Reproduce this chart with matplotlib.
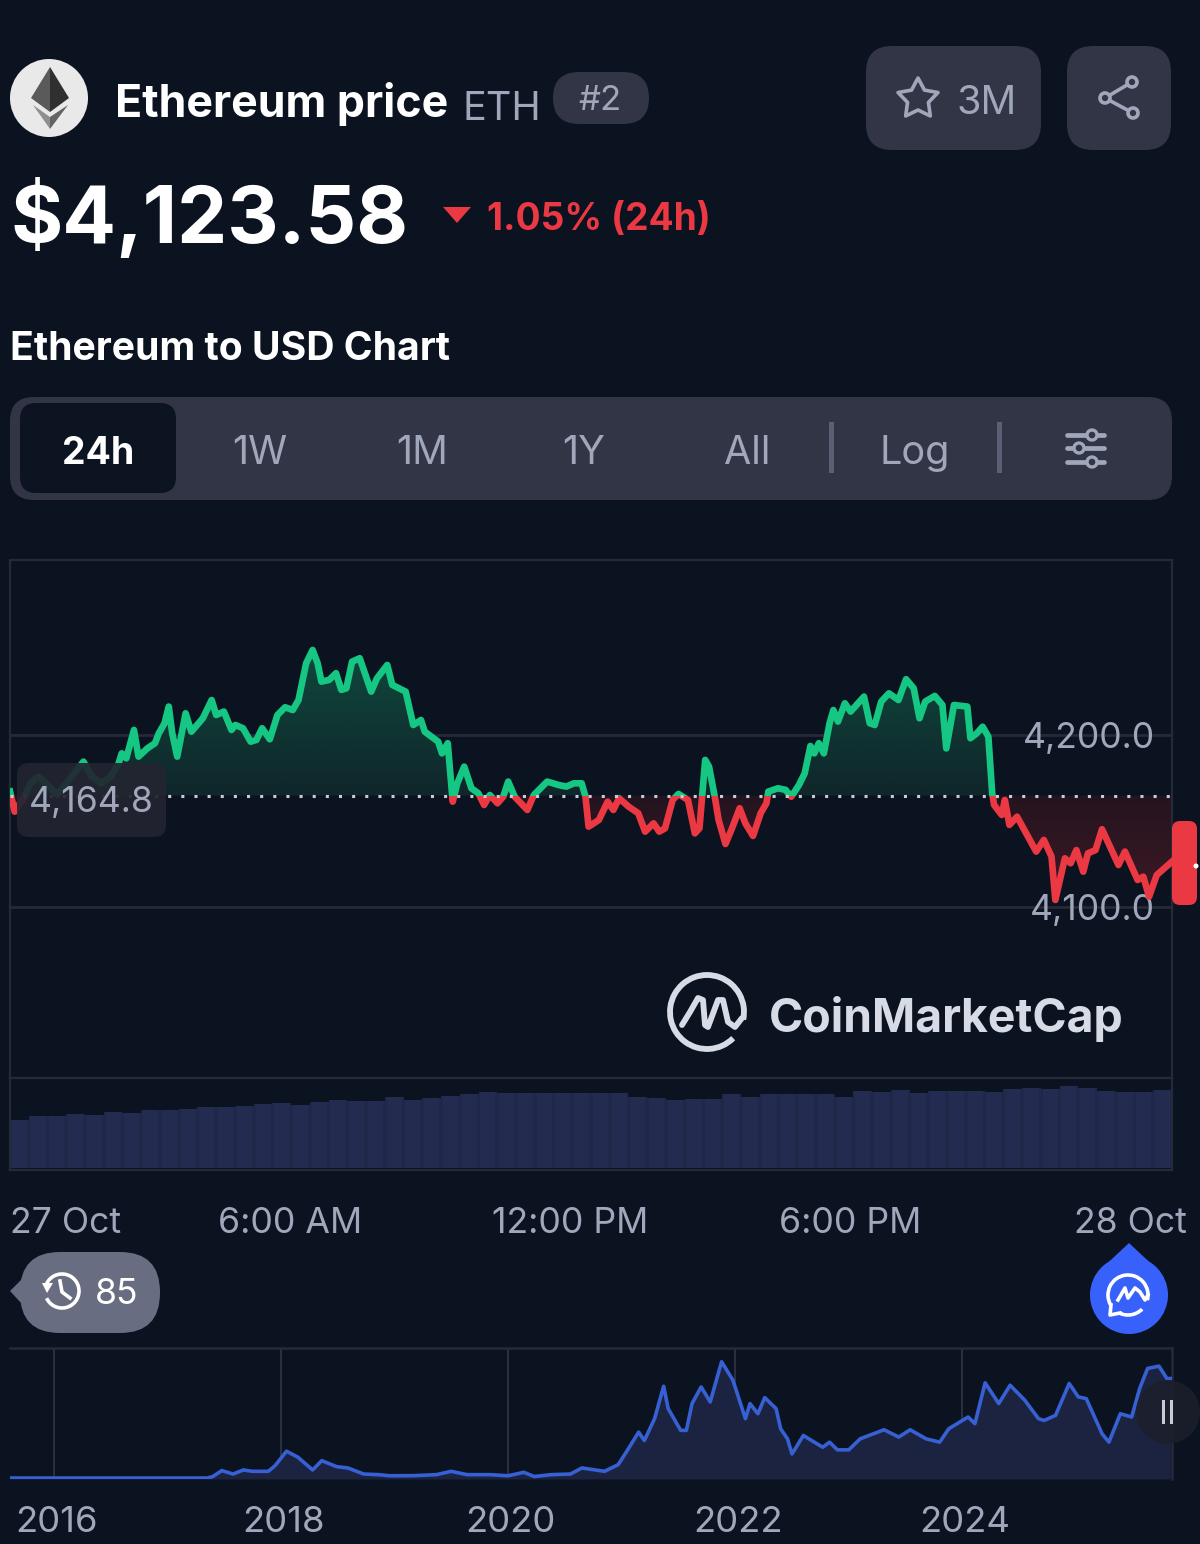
import numpy as np
import matplotlib
matplotlib.use("Agg")
import matplotlib.pyplot as plt
from matplotlib.patches import Circle, FancyBboxPatch, PathPatch, Polygon, Rectangle, Arc
from matplotlib.ticker import FuncFormatter
from matplotlib.transforms import ScaledTranslation

# 24h price, hours since 27 Oct 00:00
hours = [0.0, 0.1, 0.155, 0.278, 0.442, 0.606, 0.77, 1.016, 1.262, 1.574, 1.754, 1.959, 2.164, 2.328, 2.394,
         2.492, 2.656, 2.754, 2.943, 3.107, 3.189, 3.312, 3.402, 3.476, 3.583, 3.763, 3.886, 4.132, 4.321, 4.419,
         4.583, 4.747, 4.829, 4.993, 5.157, 5.28, 5.403, 5.567, 5.731, 5.895, 6.059, 6.182, 6.346, 6.485, 6.592,
         6.674, 6.838, 6.986, 7.1, 7.207, 7.33, 7.494, 7.617, 7.74, 7.863, 8.084, 8.191, 8.478, 8.642, 8.806,
         8.888, 9.175, 9.257, 9.38, 9.487, 9.585, 9.733, 9.888, 10.036, 10.159, 10.282, 10.446, 10.569, 10.676, 10.815,
         11.086, 11.225, 11.512, 11.758, 11.922, 12.086, 12.25, 12.332, 12.398, 12.619, 12.806, 12.929, 13.052, 13.257, 13.462,
         13.61, 13.79, 13.913, 14.036, 14.2, 14.323, 14.528, 14.676, 14.774, 14.897, 14.979, 15.102, 15.184, 15.332, 15.471,
         15.635, 15.758, 15.922, 16.086, 16.209, 16.25, 16.455, 16.619, 16.742, 16.906, 17.029, 17.152, 17.234, 17.332, 17.439,
         17.562, 17.644, 17.742, 17.89, 18.013, 18.3, 18.423, 18.53, 18.669, 18.833, 19.038, 19.202, 19.366, 19.489, 19.612,
         19.817, 19.981, 20.063, 20.227, 20.514, 20.58, 20.719, 20.842, 20.965, 21.047, 21.088, 21.252, 21.318, 21.416, 21.58,
         21.99, 22.154, 22.318, 22.4, 22.605, 22.728, 22.851, 22.999, 23.098, 23.261, 23.4, 23.753, 23.892, 24.163, 24.286,
         24.409, 24.573, 24.9]
prices = [4167.1, 4155.4, 4158.3, 4162.2, 4171.9, 4175.8, 4171.9, 4165.1, 4173.8, 4184.5, 4175.8, 4171.9, 4175.8, 4183.5, 4189.3,
          4186.4, 4202.9, 4187.4, 4192.2, 4195.2, 4201.0, 4206.8, 4216.5, 4201.0, 4187.4, 4212.6, 4201.9, 4209.7, 4220.3, 4211.6,
          4213.6, 4202.9, 4205.8, 4203.9, 4196.1, 4197.1, 4203.9, 4197.5, 4211.6, 4216.1, 4214.5, 4220.3, 4241.7, 4249.4, 4241.7,
          4231.0, 4232.0, 4235.9, 4226.2, 4227.1, 4242.6, 4244.6, 4234.9, 4225.2, 4232.9, 4240.7, 4229.1, 4225.2, 4205.8, 4208.7,
          4201.9, 4196.1, 4189.3, 4195.2, 4161.2, 4171.9, 4181.6, 4169.0, 4166.1, 4159.3, 4165.1, 4160.3, 4164.1, 4172.9, 4164.1,
          4156.4, 4165.1, 4172.9, 4170.9, 4170.0, 4171.9, 4171.9, 4164.1, 4146.7, 4150.6, 4161.2, 4156.4, 4163.2, 4158.3, 4154.5,
          4143.8, 4148.6, 4143.8, 4145.7, 4162.2, 4165.7, 4162.2, 4142.8, 4145.7, 4185.5, 4181.6, 4164.1, 4150.6, 4136.6, 4145.7,
          4157.4, 4148.6, 4141.3, 4154.5, 4160.3, 4167.1, 4169.0, 4168.1, 4164.1, 4170.9, 4177.7, 4193.6, 4189.3, 4195.2, 4189.3,
          4206.8, 4214.5, 4207.8, 4218.4, 4213.6, 4222.3, 4206.8, 4205.8, 4219.4, 4224.2, 4220.3, 4232.4, 4227.1, 4209.7, 4219.4,
          4222.7, 4217.4, 4192.2, 4217.4, 4216.5, 4198.1, 4201.0, 4204.8, 4199.0, 4166.1, 4159.3, 4153.5, 4162.2, 4147.7, 4152.5,
          4132.2, 4139.0, 4129.3, 4104.1, 4128.3, 4125.4, 4133.1, 4120.5, 4131.2, 4133.1, 4145.2, 4124.4, 4132.2, 4115.7, 4117.6,
          4106.0, 4118.6, 4126.4]
open_price = 4164.8
price_ticks = [4100, 4200]

# volume bars (relative height)
volume = [145, 155, 157, 163, 160, 168, 165, 173, 173, 177, 183, 183, 185, 193, 195, 189, 197, 203, 201, 201, 213,
          203, 211, 217, 223, 227, 224, 224, 224, 224, 224, 224, 225, 213, 211, 205, 207, 207, 221, 213, 222,
          222, 223, 221, 213, 232, 229, 233, 225, 231, 231, 230, 227, 237, 241, 237, 245, 240, 231, 229, 227, 233]

# all time overview
years = [2015.62, 2017.35, 2017.4, 2017.48, 2017.58, 2017.67, 2017.75, 2017.89, 2017.95, 2018.05, 2018.15, 2018.28, 2018.36,
         2018.49, 2018.59, 2018.73, 2018.86, 2018.96, 2019.17, 2019.37, 2019.5, 2019.64, 2019.84, 2020.0, 2020.14, 2020.23,
         2020.38, 2020.55, 2020.65, 2020.85, 2020.97, 2021.05, 2021.15, 2021.2, 2021.29, 2021.37, 2021.41, 2021.52, 2021.57,
         2021.62, 2021.7, 2021.78, 2021.88, 2021.98, 2022.09, 2022.13, 2022.2, 2022.26, 2022.36, 2022.4, 2022.46, 2022.5,
         2022.6, 2022.77, 2022.83, 2022.9, 2023.0, 2023.1, 2023.31, 2023.44, 2023.54, 2023.68, 2023.8, 2023.88, 2024.05,
         2024.11, 2024.2, 2024.32, 2024.42, 2024.55, 2024.67, 2024.72, 2024.82, 2024.94, 2025.02, 2025.09, 2025.23, 2025.29,
         2025.39, 2025.49, 2025.56, 2025.63, 2025.73, 2025.8, 2025.83]
all_prices = [40, 40, 95, 340, 200, 365, 310, 310, 540, 1120, 880, 365, 740,
              500, 445, 200, 175, 130, 135, 175, 310, 175, 175, 130, 270, 100,
              175, 200, 445, 310, 580, 1150, 1890, 1550, 2430, 3740, 2835, 1960, 1960,
              3040, 3710, 3105, 4725, 3980, 2430, 3040, 2630, 3280, 2835, 2025, 1620, 1010,
              1755, 1280, 1485, 1175, 1175, 1620, 1985, 1690, 1985, 1620, 1485, 2025, 2500,
              2230, 3875, 3040, 3780, 3170, 2430, 2360, 2565, 3850, 3310, 3240, 1820, 1485,
              2630, 2500, 3645, 4455, 4550, 4050, 4050]
year_ticks = [2016, 2018, 2020, 2022, 2024]

hour_ticks = [0, 6, 12, 18, 24]
hour_labels = ["27 Oct", "6:00 AM", "12:00 PM", "6:00 PM", "28 Oct"]
range_buttons = ["1W", "1M", "1Y", "All"]

BG = "#0b1220"
PANEL = "#323546"
GRID = "#262a38"
MUTED = "#a1a7bb"
GREEN = "#16c784"
RED = "#ea3943"
BLUE = "#3861fb"
FONT = "Inter"
W, H = 1200, 1544


def px_axes(fig, x0, y0, x1, y1):
    return fig.add_axes([x0 / W, 1 - y1 / H, (x1 - x0) / W, (y1 - y0) / H])


def box(ax, x, y, w, h, r, color, **kw):
    ax.add_patch(FancyBboxPatch((x + r, y + r), w - 2 * r, h - 2 * r, boxstyle=f"round,pad={r},rounding_size={r}",
                                fc=color, ec="none", **kw))


def gradient_fill(ax, x, base, y, top_rgb, bottom_rgb, limit):
    # vertical gradient clipped to the area between the line and the open price
    poly = ax.fill_between(x, base, y, color="none", lw=0)
    grad = np.linspace(0, 1, 64)[:, None, None]
    img = np.array(top_rgb) / 255 * (1 - grad) + np.array(bottom_rgb) / 255 * grad
    im = ax.imshow(img, extent=[0, 24.9, min(base, limit), max(base, limit)], aspect="auto",
                   origin="upper", zorder=1)
    clip = PathPatch(poly.get_paths()[0], transform=ax.transData, fc="none", ec="none")
    ax.add_patch(clip)
    im.set_clip_path(clip)


def main():
    fig = plt.figure(figsize=(W / 100, H / 100), dpi=100, facecolor=BG)
    plt.rcParams["font.family"] = [FONT, "DejaVu Sans"]

    # ---------- main price chart ----------
    ax = px_axes(fig, 10, 560, 1172, 1078)
    ax.set_facecolor(BG)
    h = np.array(hours)
    p = np.array(prices)
    gradient_fill(ax, h, open_price, np.maximum(p, open_price), (15, 72, 60), (15, 38, 43), 4250)
    gradient_fill(ax, h, open_price, np.minimum(p, open_price), (36, 20, 31), (62, 25, 37), 4100)
    for color, y0 in ((GREEN, open_price), (RED, open_price - 400)):
        line, = ax.plot(h, p, color=color, lw=4.8, solid_joinstyle="round", zorder=3)
        line.set_clip_path(Rectangle((0, y0), 30, 400, transform=ax.transData))
    ax.axhline(open_price, color="#c9ccd4", lw=2.2, ls=(0, (1, 3.3)), zorder=4)
    ax.set_xlim(0, 24.9)
    ax.set_ylim(4000.6, 4301.7)
    ax.set_xticks([])
    ax.set_yticks(price_ticks)
    ax.yaxis.tick_right()
    ax.yaxis.set_major_formatter(FuncFormatter(lambda v, _: f"{v:,.1f}"))
    ax.tick_params(axis="y", length=0, pad=-12, labelsize=25.6, labelcolor=MUTED)
    for lab in ax.get_yticklabels():
        lab.set_ha("right")
        lab.set_zorder(6)
    ax.grid(axis="y", color=GRID, lw=2)
    ax.set_axisbelow(True)
    for s in ax.spines.values():
        s.set_color(GRID)
        s.set_linewidth(1.6)

    # ---------- volume ----------
    vol_ax = px_axes(fig, 10, 1078, 1172, 1170)
    vol_ax.set_facecolor(BG)
    n = len(volume)
    step = 24.9 / n
    vol_hours = (np.arange(n) + 0.5) * step
    vol_ax.bar(vol_hours, volume, width=step, color="#1f2849", lw=0)
    vol_ax.bar(vol_hours, volume, width=step * 0.8, color="#232c50", lw=0)
    vol_ax.set_xlim(0, 24.9)
    vol_ax.set_ylim(-6, 270)
    vol_ax.set_yticks([])
    vol_ax.set_xticks(hour_ticks)
    vol_ax.set_xticklabels(hour_labels)
    vol_ax.tick_params(axis="x", length=0, pad=26.5, labelsize=25.7, labelcolor=MUTED)
    vol_ax.get_xticklabels()[0].set_ha("left")
    for s in vol_ax.spines.values():
        s.set_color(GRID)
        s.set_linewidth(1.6)

    # ---------- overview ----------
    mini = px_axes(fig, 10, 1348, 1172, 1479)
    mini.set_facecolor(BG)
    mini.fill_between(years, 0, all_prices, color="#1c2340", lw=0, zorder=2)
    mini.plot(years, all_prices, color="#3660d4", lw=2.6, zorder=3)
    mini.set_xlim(2015.616, 2025.845)
    mini.set_ylim(0, 5280)
    mini.set_yticks([])
    mini.set_xticks(year_ticks)
    mini.set_xticklabels([str(y) for y in year_ticks])
    mini.tick_params(axis="x", length=0, pad=19.7, labelsize=26.3, labelcolor=MUTED)
    nudge = ScaledTranslation(2.5 / 100, 0, fig.dpi_scale_trans)
    for lab in mini.get_xticklabels():
        lab.set_transform(lab.get_transform() + nudge)
    mini.grid(axis="x", color="#2c3040", lw=1.4, zorder=1)
    mini.set_axisbelow(True)
    for name, s in mini.spines.items():
        s.set_visible(name in ("top", "right"))
        s.set_color(GRID)
        s.set_linewidth(1.8)

    # ---------- page furniture, in pixel coordinates ----------
    ui = fig.add_axes([0, 0, 1, 1], zorder=10)
    ui.set_xlim(0, W)
    ui.set_ylim(H, 0)
    ui.axis("off")
    ui.patch.set_alpha(0)

    # coin logo
    ui.add_patch(Circle((49, 98), 39, fc="#e9e9e9", ec="none"))
    ui.add_patch(Polygon([(50, 67), (31, 98), (50, 112)], fc="#5a5a5a", ec="none"))
    ui.add_patch(Polygon([(50, 67), (69, 98), (50, 112)], fc="#303030", ec="none"))
    ui.add_patch(Polygon([(33, 105), (50, 129), (50, 117)], fc="#8f8f8f", ec="none"))
    ui.add_patch(Polygon([(68, 105), (50, 129), (50, 117)], fc="#636363", ec="none"))

    ui.text(115, 104, "Ethereum price", color="white", fontsize=32.2, fontweight="bold", va="center")
    ui.text(462, 109, "ETH", color=MUTED, fontsize=28.5, va="center")
    box(ui, 553, 72, 96, 52, 26, PANEL)
    ui.text(600, 101, "#2", color=MUTED, fontsize=25, ha="center", va="center")

    # watch / share buttons
    box(ui, 866, 46, 175, 104, 26, PANEL)
    box(ui, 1067, 46, 104, 104, 26, PANEL)
    ang = np.pi / 2 + np.arange(10) * np.pi / 5
    rad = np.tile([21, 11], 5)
    star = np.c_[918 + rad * np.cos(ang), 99 - rad * np.sin(ang)]
    ui.add_patch(Polygon(star, fc="none", ec=MUTED, lw=2.6, joinstyle="round"))
    ui.text(987, 103, "3M", color=MUTED, fontsize=28.5, ha="center", va="center")
    ui.plot([1132, 1105, 1133], [82, 98, 113], color=MUTED, lw=2.6)
    for cx, cy in ((1132, 82), (1105, 98), (1133, 113)):
        ui.add_patch(Circle((cx, cy), 5, fc=PANEL, ec=MUTED, lw=2.6, zorder=3))

    ui.text(10, 219, "$4,123.58", color="white", fontsize=57.4, fontweight="bold", va="center")
    ui.add_patch(Polygon([(443, 207), (471, 207), (457, 223)], fc=RED, ec="none"))
    ui.text(487, 220, "1.05% (24h)", color=RED, fontsize=26.8, fontweight="bold", va="center")
    ui.text(10, 350, "Ethereum to USD Chart", color="white", fontsize=28.2, fontweight="bold", va="center")

    # range selector
    box(ui, 10, 397, 1162, 103, 24, PANEL)
    box(ui, 20, 403, 156, 90, 16, "#0d1421")
    ui.text(98, 454, "24h", color="white", fontsize=27, fontweight="bold", ha="center", va="center")
    for cx, label in zip((260, 422, 584, 747), range_buttons):
        ui.text(cx, 454, label, color=MUTED, fontsize=28.5, ha="center", va="center")
    ui.text(915, 454, "Log", color=MUTED, fontsize=28.5, ha="center", va="center")
    for cx in (831, 999):
        ui.add_patch(Rectangle((cx - 2.5, 422), 5, 51, fc="#596075", ec="none"))
    for ly, kx in ((435, 1092), (448, 1079), (462, 1092)):
        ui.plot([1067, 1104], [ly, ly], color=MUTED, lw=3.4, solid_capstyle="round")
        ui.add_patch(Circle((kx, ly), 5, fc=PANEL, ec=MUTED, lw=2.4, zorder=3))

    # floating label for the open price and the last price tag
    box(ui, 17, 763, 149, 74, 12, "#222531", alpha=0.92)
    ui.text(91, 802, f"{open_price:,.1f}", color=MUTED, fontsize=25.6, ha="center", va="center")
    box(ui, 1172, 821, 25, 84, 8, RED)
    ui.add_patch(Circle((1196, 866), 2.5, fc="white", ec="none"))

    # watermark
    logo = "#d7dbe6"
    ui.add_patch(Arc((707, 1012), 74, 74, theta1=45, theta2=372, color=logo, lw=4.2))
    sq_x = [682, 690, 698, 703, 705, 708, 718, 723, 728, 735, 742]
    sq_y = [1025, 1012, 998, 1000, 1025, 1027, 1000, 1000, 1022, 1027, 1018]
    ui.plot(sq_x, sq_y, color=logo, lw=4.2, solid_joinstyle="round", solid_capstyle="round")
    ui.text(769, 1019, "CoinMarketCap", color=logo, fontsize=33.4, fontweight="bold", va="center")

    # history pill
    box(ui, 20, 1252, 140, 81, 40, "#686d81")
    ui.add_patch(Polygon([(10, 1291), (47, 1254), (47, 1331)], fc="#686d81", ec="none"))
    ui.add_patch(Arc((62, 1291), 34, 34, theta1=-155, theta2=155, color="white", lw=2.6))
    ui.add_patch(Polygon([(42, 1283), (53, 1283), (47, 1293)], fc="white", ec="none"))
    ui.plot([60, 62, 70], [1281, 1292, 1298], color="white", lw=2.6)
    ui.text(117, 1295, "85", color="white", fontsize=25.6, ha="center", va="center")

    # chat bubble
    ui.add_patch(Polygon([(1129, 1243), (1098, 1272), (1160, 1272)], fc=BLUE, ec="none"))
    ui.add_patch(Circle((1129, 1295), 39, fc=BLUE, ec="none"))
    ui.add_patch(Arc((1128, 1295), 40, 40, theta1=150, theta2=375, color="white", lw=2.6))
    ui.add_patch(Arc((1128, 1295), 40, 40, theta1=45, theta2=115, color="white", lw=2.6))
    ui.plot([1111, 1110, 1120], [1305, 1315, 1313], color="white", lw=2.6)
    ui.plot([1118, 1125, 1128, 1135, 1140, 1145, 1148], [1300, 1288, 1298, 1288, 1292, 1300, 1295],
            color="white", lw=2.6)

    # pause button on the overview
    ui.add_patch(Circle((1168, 1412), 32, fc="#1b1f2b", ec="none", alpha=0.85))
    for bx in (1163, 1171):
        ui.add_patch(Rectangle((bx - 1.5, 1400), 3, 24, fc="#c9ccd4", ec="none"))

    fig.savefig("out.png", dpi=100, facecolor=BG)


if __name__ == "__main__":
    main()
